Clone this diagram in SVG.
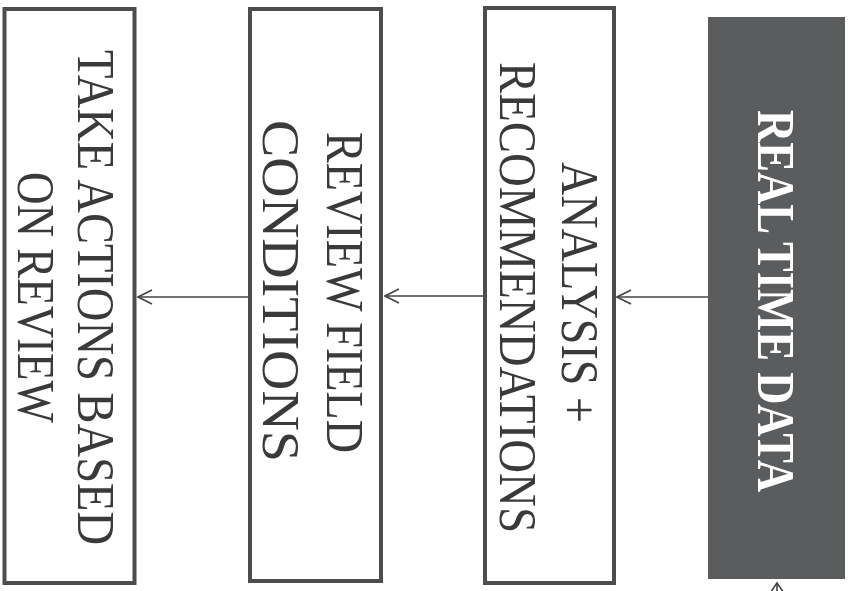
<svg xmlns="http://www.w3.org/2000/svg" width="849" height="591" viewBox="0 0 849 591">
  <style>
    .box { fill: #ffffff; stroke: #4d4d4d; stroke-width: 4; }
    .dark { fill: #5b5c5e; }
    .lbl { font-family: "Liberation Serif", "Times New Roman", serif; font-size: 53px; fill: #3a3a3a; text-anchor: middle; }
    .lbl-w { font-family: "Liberation Serif", "Times New Roman", serif; font-size: 53px; font-weight: bold; fill: #ffffff; text-anchor: middle; }
    .conn { stroke: #444444; stroke-width: 1.6; fill: none; }
  </style>
  <defs>
    <marker id="open" markerWidth="16" markerHeight="16" refX="15" refY="8" orient="auto" markerUnits="userSpaceOnUse">
      <path d="M1,1 L15,8 L1,15" fill="none" stroke="#444444" stroke-width="1.6"/>
    </marker>
  </defs>

  <rect width="849" height="591" fill="#ffffff"/>

  <g id="connectors">
    <line class="conn" x1="708" y1="297" x2="617" y2="297" marker-end="url(#open)"/>
    <line class="conn" x1="483" y1="296" x2="385" y2="296" marker-end="url(#open)"/>
    <line class="conn" x1="248" y1="297" x2="138" y2="297" marker-end="url(#open)"/>
    <line class="conn" x1="777" y1="600" x2="777" y2="583"/>
    <path class="conn" d="M770,593 L777,583 L784,593"/>
  </g>

  <g id="node-take-actions">
    <rect class="box" x="4.5" y="9" width="130" height="574"/>
    <text class="lbl" transform="translate(78,297.5) rotate(90)" textLength="495" lengthAdjust="spacingAndGlyphs">TAKE ACTIONS BASED</text>
    <text class="lbl" transform="translate(18,297.5) rotate(90)" textLength="251" lengthAdjust="spacingAndGlyphs">ON REVIEW</text>
  </g>

  <g id="node-review-field">
    <rect class="box" x="250" y="9" width="131" height="572"/>
    <text class="lbl" transform="translate(327,292.5) rotate(90)" textLength="321" lengthAdjust="spacingAndGlyphs">REVIEW FIELD</text>
    <text class="lbl" transform="translate(263,291) rotate(90)" textLength="342" lengthAdjust="spacingAndGlyphs">CONDITIONS</text>
  </g>

  <g id="node-analysis">
    <rect class="box" x="485" y="8" width="129" height="575"/>
    <text class="lbl" transform="translate(562,292.5) rotate(90)" textLength="261" lengthAdjust="spacingAndGlyphs">ANALYSIS +</text>
    <text class="lbl" transform="translate(500,297.5) rotate(90)" textLength="471" lengthAdjust="spacingAndGlyphs">RECOMMENDATIONS</text>
  </g>

  <g id="node-real-time-data">
    <rect class="dark" x="708" y="17" width="137" height="562"/>
    <text class="lbl-w" transform="translate(758,301) rotate(90)" textLength="382" lengthAdjust="spacingAndGlyphs">REAL TIME DATA</text>
  </g>
</svg>
